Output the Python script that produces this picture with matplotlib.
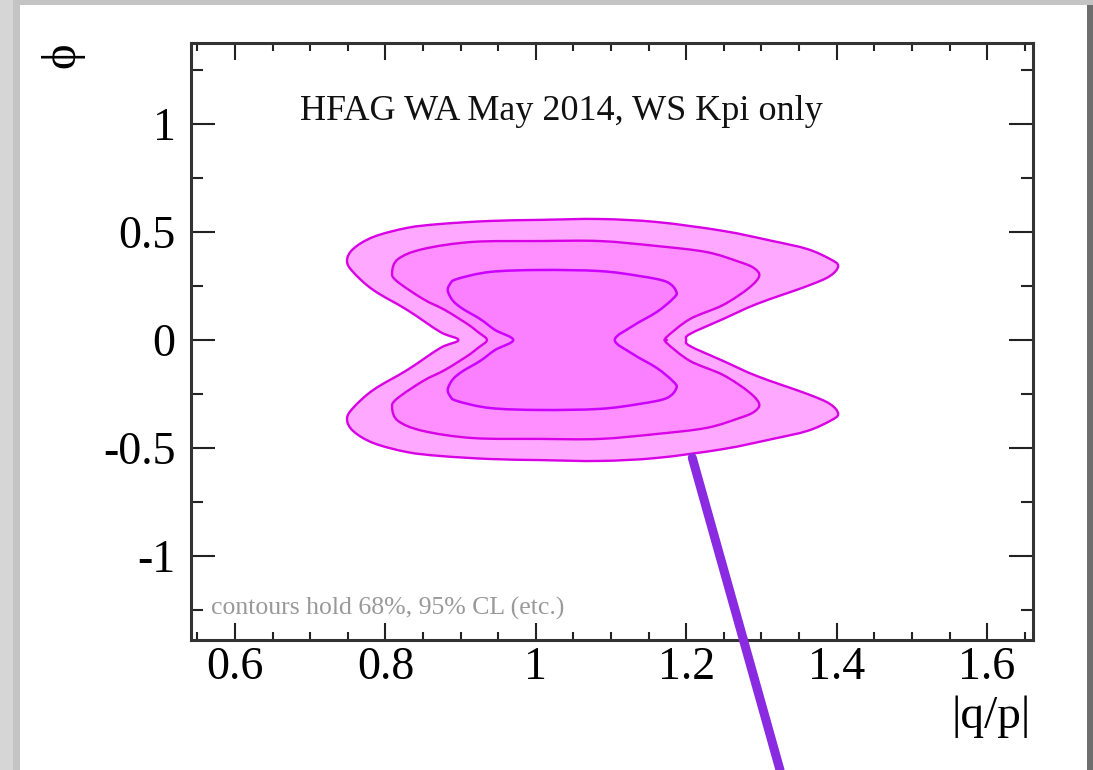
import numpy as np
import matplotlib
matplotlib.use("Agg")
import matplotlib.pyplot as plt
from matplotlib.patches import Rectangle, PathPatch
from matplotlib.path import Path
from matplotlib.ticker import FixedLocator, MultipleLocator

plt.rcParams['font.family'] = ['Liberation Serif', 'DejaVu Serif']

# upper halves of the CL contours (|q/p|, phi); lower halves are the mirror in phi
outer_x = [0.897, 0.873, 0.829, 0.784, 0.757, 0.749, 0.757, 0.784, 0.829, 0.873,
           0.939, 1.006, 1.085, 1.161, 1.249, 1.315, 1.361, 1.391, 1.402, 1.391,
           1.361, 1.294, 1.249, 1.205, 1.200]
outer_y = [0.000, 0.037, 0.139, 0.231, 0.315, 0.366, 0.421, 0.477, 0.519, 0.537,
           0.551, 0.556, 0.560, 0.546, 0.505, 0.458, 0.421, 0.375, 0.343, 0.296,
           0.250, 0.167, 0.097, 0.028, 0.000]

mid_x = [0.935, 0.923, 0.909, 0.879, 0.850, 0.815, 0.809, 0.817, 0.850, 0.916,
         1.006, 1.085, 1.161, 1.227, 1.271, 1.290, 1.297, 1.283, 1.249, 1.205,
         1.174, 1.174]
mid_y = [0.000, 0.037, 0.074, 0.139, 0.190, 0.273, 0.315, 0.375, 0.421, 0.454,
         0.458, 0.458, 0.435, 0.407, 0.361, 0.333, 0.296, 0.240, 0.162, 0.097,
         0.014, 0.000]

inner_x = [0.970, 0.946, 0.926, 0.903, 0.890, 0.883, 0.886, 0.895, 0.939, 1.006,
           1.085, 1.138, 1.174, 1.187, 1.182, 1.161, 1.129, 1.105]
inner_y = [0.000, 0.046, 0.097, 0.144, 0.181, 0.227, 0.259, 0.282, 0.315, 0.324,
           0.319, 0.296, 0.269, 0.222, 0.190, 0.130, 0.065, 0.000]

x_ticks = [0.6, 0.8, 1.0, 1.2, 1.4, 1.6]
x_labels = ['0.6', '0.8', '1', '1.2', '1.4', '1.6']
y_ticks = [-1.0, -0.5, 0.0, 0.5, 1.0]
y_labels = ['-1', '-0.5', '0', '0.5', '1']

# end of the pointer line that tags the outer contour
pointer_tip = (1.208, -0.545)


def contour_path(xs, ys):
    # close the upper half with its mirror image, then stroke a smooth
    # Catmull-Rom curve (as cubic Beziers) through the vertices
    top = np.column_stack([xs, ys])
    bottom = top[-2:0:-1].copy()
    bottom[:, 1] *= -1
    pts = np.vstack([top, bottom])
    n = len(pts)
    verts = [pts[0]]
    codes = [Path.MOVETO]
    for i in range(n):
        p0, p1, p2, p3 = pts[i - 1], pts[i], pts[(i + 1) % n], pts[(i + 2) % n]
        verts += [p1 + (p2 - p0) / 6.0, p2 - (p3 - p1) / 6.0, p2]
        codes += [Path.CURVE4] * 3
    verts.append(pts[0])
    codes.append(Path.CLOSEPOLY)
    return Path(np.array(verts), codes)


fig = plt.figure(figsize=(10.93, 7.70), dpi=100, facecolor='#d6d6d6')

# window shadow and white page
fig.patches.append(Rectangle((0.012, 0.0), 0.988, 1.0, transform=fig.transFigure,
                             facecolor='#c4c4c4', edgecolor='none', zorder=-3))
fig.patches.append(Rectangle((0.0183, 0.0), 0.9762 + 0.0055, 0.9935, transform=fig.transFigure,
                             facecolor='#6e6e6e', edgecolor='none', zorder=-2))
fig.patches.append(Rectangle((0.0183, 0.0), 0.9762, 0.9935, transform=fig.transFigure,
                             facecolor='white', edgecolor='none', zorder=-1))

ax = fig.add_axes([0.1747, 0.1688, 0.7704, 0.7754])
ax.set_facecolor('none')
ax.set_xlim(0.5415, 1.661)
ax.set_ylim(-1.389, 1.375)

line_col = '#d800e4'
ax.add_patch(PathPatch(contour_path(outer_x, outer_y), facecolor='#ffa8ff',
                       edgecolor=line_col, lw=1.7, zorder=2))
ax.add_patch(PathPatch(contour_path(mid_x, mid_y), facecolor='#ff8eff',
                       edgecolor=line_col, lw=1.7, zorder=3))
plt.rcParams['hatch.color'] = '#e060ff'
plt.rcParams['hatch.linewidth'] = 0.5
ax.add_patch(PathPatch(contour_path(inner_x, inner_y), facecolor='#fb80ff',
                       edgecolor='none', hatch='xxxxxx', zorder=4))
ax.add_patch(PathPatch(contour_path(inner_x, inner_y), facecolor='none',
                       edgecolor='#cc00ff', lw=1.8, zorder=5))

ax.xaxis.set_major_locator(FixedLocator(x_ticks))
ax.set_xticklabels(x_labels)
ax.xaxis.set_minor_locator(MultipleLocator(0.05))
ax.yaxis.set_major_locator(FixedLocator(y_ticks))
ax.set_yticklabels(y_labels)
ax.yaxis.set_minor_locator(MultipleLocator(0.25))

ax.tick_params(which='both', direction='in', top=True, right=True,
               colors='#222222', width=1.5, labelsize=33, labelcolor='black')
ax.xaxis.set_tick_params(which='major', length=12.5, pad=5)
ax.xaxis.set_tick_params(which='minor', length=6)
ax.yaxis.set_tick_params(which='major', length=17, pad=11)
ax.yaxis.set_tick_params(which='minor', length=8.5)
for s in ax.spines.values():
    s.set_linewidth(2.2)
    s.set_color('#333333')

ax.text(0.686, 1.056, 'HFAG WA May 2014, WS Kpi only', fontsize=26,
        ha='left', va='center', color='#111111')
ax.text(0.568, -1.245, 'contours hold 68%, 95% CL (etc.)', fontsize=18.5,
        ha='left', va='center', color='#999999')

fig.text(1031 / 1093, 1 - 717 / 770, '|q/p|', fontsize=34, ha='right', va='center')
fig.text(62 / 1093, 1 - 55 / 770, 'ϕ', fontsize=35, rotation=90,
         ha='center', va='center')

ax.annotate('', xy=pointer_tip, xycoords='data', xytext=(780 / 1093, 0.0),
            textcoords='figure fraction', annotation_clip=False,
            arrowprops=dict(arrowstyle='-', lw=6.5, color='#8a2be2',
                            shrinkA=0, shrinkB=0), zorder=10)

fig.savefig('out.png', dpi=100, facecolor=fig.get_facecolor())
